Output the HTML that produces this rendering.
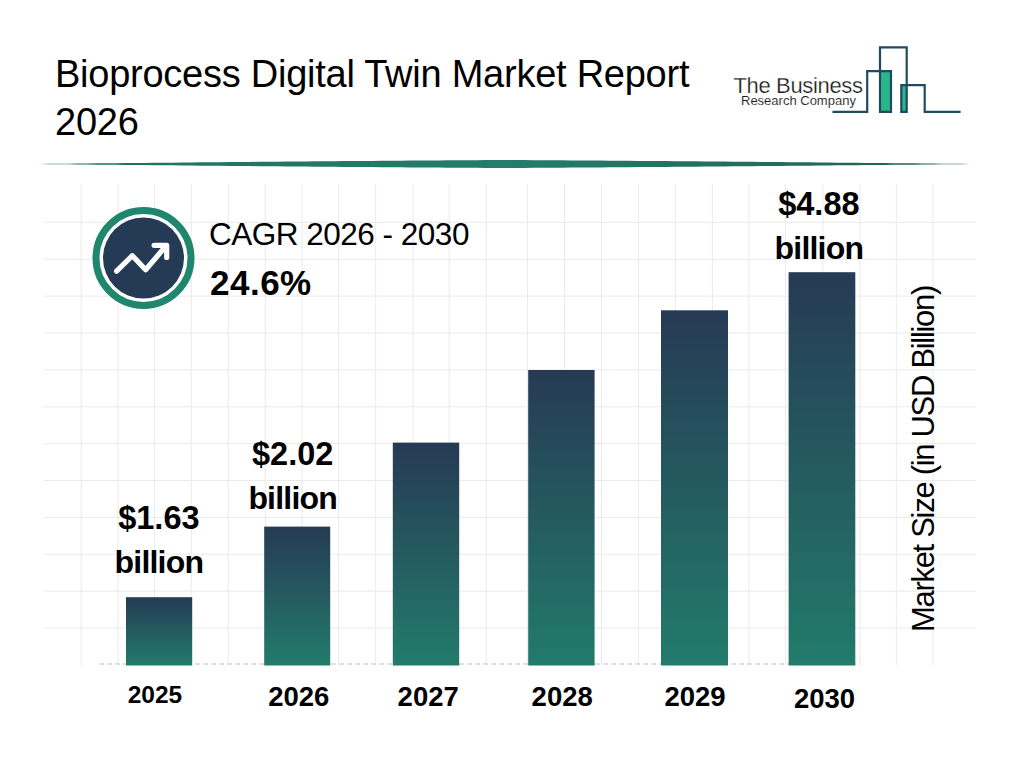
<!DOCTYPE html>
<html><head><meta charset="utf-8">
<style>
html,body{margin:0;padding:0;background:#fff;}
body{width:1024px;height:768px;position:relative;overflow:hidden;font-family:"Liberation Sans",sans-serif;color:#000;}
.t{position:absolute;white-space:nowrap;line-height:1;}
.c{width:200px;text-align:center;}
svg{position:absolute;left:0;top:0;}
</style></head><body>
<svg width="1024" height="768" viewBox="0 0 1024 768">
<defs>
<linearGradient id="div" x1="0" y1="0" x2="1" y2="0">
<stop offset="0" stop-color="#226f62"/>
<stop offset="0.5" stop-color="#237d6a"/>
<stop offset="1" stop-color="#1f5f55"/>
</linearGradient>
<linearGradient id="g0" x1="0" y1="0" x2="0" y2="1"><stop offset="0" stop-color="#263a54"/><stop offset="1" stop-color="#227b6b"/></linearGradient>
<linearGradient id="g1" x1="0" y1="0" x2="0" y2="1"><stop offset="0" stop-color="#263a54"/><stop offset="1" stop-color="#227b6b"/></linearGradient>
<linearGradient id="g2" x1="0" y1="0" x2="0" y2="1"><stop offset="0" stop-color="#263a54"/><stop offset="1" stop-color="#227b6b"/></linearGradient>
<linearGradient id="g3" x1="0" y1="0" x2="0" y2="1"><stop offset="0" stop-color="#263a54"/><stop offset="1" stop-color="#227b6b"/></linearGradient>
<linearGradient id="g4" x1="0" y1="0" x2="0" y2="1"><stop offset="0" stop-color="#263a54"/><stop offset="1" stop-color="#227b6b"/></linearGradient>
<linearGradient id="g5" x1="0" y1="0" x2="0" y2="1"><stop offset="0" stop-color="#263a54"/><stop offset="1" stop-color="#227b6b"/></linearGradient>
</defs>
<polygon points="30.0,164.00 39.5,163.91 49.0,163.81 58.5,163.72 68.0,163.63 77.5,163.53 87.0,163.44 96.5,163.35 106.0,163.26 115.5,163.16 125.0,163.07 134.5,162.98 144.0,162.89 153.5,162.80 163.0,162.71 172.5,162.63 182.0,162.54 191.5,162.45 201.0,162.36 210.5,162.28 220.0,162.19 229.5,162.10 239.0,162.02 248.5,161.93 258.0,161.85 267.5,161.77 277.0,161.68 286.5,161.60 296.0,161.52 305.5,161.44 315.0,161.36 324.5,161.28 334.0,161.20 343.5,161.12 353.0,161.04 362.5,160.97 372.0,160.89 381.5,160.82 391.0,160.74 400.5,160.67 410.0,160.60 419.5,160.53 429.0,160.46 438.5,160.39 448.0,160.33 457.5,160.26 467.0,160.20 476.5,160.14 486.0,160.09 495.5,160.04 505.0,160.00 514.5,160.04 524.0,160.09 533.5,160.14 543.0,160.20 552.5,160.26 562.0,160.33 571.5,160.39 581.0,160.46 590.5,160.53 600.0,160.60 609.5,160.67 619.0,160.74 628.5,160.82 638.0,160.89 647.5,160.97 657.0,161.04 666.5,161.12 676.0,161.20 685.5,161.28 695.0,161.36 704.5,161.44 714.0,161.52 723.5,161.60 733.0,161.68 742.5,161.77 752.0,161.85 761.5,161.93 771.0,162.02 780.5,162.10 790.0,162.19 799.5,162.28 809.0,162.36 818.5,162.45 828.0,162.54 837.5,162.63 847.0,162.71 856.5,162.80 866.0,162.89 875.5,162.98 885.0,163.07 894.5,163.16 904.0,163.26 913.5,163.35 923.0,163.44 932.5,163.53 942.0,163.63 951.5,163.72 961.0,163.81 970.5,163.91 980.0,164.00 980.0,164.00 970.5,164.09 961.0,164.19 951.5,164.28 942.0,164.37 932.5,164.47 923.0,164.56 913.5,164.65 904.0,164.74 894.5,164.84 885.0,164.93 875.5,165.02 866.0,165.11 856.5,165.20 847.0,165.29 837.5,165.37 828.0,165.46 818.5,165.55 809.0,165.64 799.5,165.72 790.0,165.81 780.5,165.90 771.0,165.98 761.5,166.07 752.0,166.15 742.5,166.23 733.0,166.32 723.5,166.40 714.0,166.48 704.5,166.56 695.0,166.64 685.5,166.72 676.0,166.80 666.5,166.88 657.0,166.96 647.5,167.03 638.0,167.11 628.5,167.18 619.0,167.26 609.5,167.33 600.0,167.40 590.5,167.47 581.0,167.54 571.5,167.61 562.0,167.67 552.5,167.74 543.0,167.80 533.5,167.86 524.0,167.91 514.5,167.96 505.0,168.00 495.5,167.96 486.0,167.91 476.5,167.86 467.0,167.80 457.5,167.74 448.0,167.67 438.5,167.61 429.0,167.54 419.5,167.47 410.0,167.40 400.5,167.33 391.0,167.26 381.5,167.18 372.0,167.11 362.5,167.03 353.0,166.96 343.5,166.88 334.0,166.80 324.5,166.72 315.0,166.64 305.5,166.56 296.0,166.48 286.5,166.40 277.0,166.32 267.5,166.23 258.0,166.15 248.5,166.07 239.0,165.98 229.5,165.90 220.0,165.81 210.5,165.72 201.0,165.64 191.5,165.55 182.0,165.46 172.5,165.37 163.0,165.29 153.5,165.20 144.0,165.11 134.5,165.02 125.0,164.93 115.5,164.84 106.0,164.74 96.5,164.65 87.0,164.56 77.5,164.47 68.0,164.37 58.5,164.28 49.0,164.19 39.5,164.09 30.0,164.00" fill="url(#div)"/>
<g stroke="#eaeaea" stroke-width="1" fill="none">
<line x1="81.2" y1="184" x2="81.2" y2="665"/>
<line x1="117.9" y1="184" x2="117.9" y2="665"/>
<line x1="154.4" y1="184" x2="154.4" y2="665"/>
<line x1="191.3" y1="184" x2="191.3" y2="665"/>
<line x1="228.2" y1="184" x2="228.2" y2="665"/>
<line x1="265.3" y1="184" x2="265.3" y2="665"/>
<line x1="302.0" y1="184" x2="302.0" y2="665"/>
<line x1="338.6" y1="184" x2="338.6" y2="665"/>
<line x1="375.7" y1="184" x2="375.7" y2="665"/>
<line x1="413.2" y1="184" x2="413.2" y2="665"/>
<line x1="449.2" y1="184" x2="449.2" y2="665"/>
<line x1="486.2" y1="184" x2="486.2" y2="665"/>
<line x1="527.5" y1="184" x2="527.5" y2="665"/>
<line x1="564.6" y1="184" x2="564.6" y2="665"/>
<line x1="601.5" y1="184" x2="601.5" y2="665"/>
<line x1="638.6" y1="184" x2="638.6" y2="665"/>
<line x1="675.3" y1="184" x2="675.3" y2="665"/>
<line x1="712.4" y1="184" x2="712.4" y2="665"/>
<line x1="748.9" y1="184" x2="748.9" y2="665"/>
<line x1="785.6" y1="184" x2="785.6" y2="665"/>
<line x1="822.9" y1="184" x2="822.9" y2="665"/>
<line x1="860.0" y1="184" x2="860.0" y2="665"/>
<line x1="896.3" y1="184" x2="896.3" y2="665"/>
<line x1="933.0" y1="184" x2="933.0" y2="665"/>
<line x1="44" y1="222.4" x2="976" y2="222.4"/>
<line x1="44" y1="259.3" x2="976" y2="259.3"/>
<line x1="44" y1="296.1" x2="976" y2="296.1"/>
<line x1="44" y1="333.0" x2="976" y2="333.0"/>
<line x1="44" y1="369.9" x2="976" y2="369.9"/>
<line x1="44" y1="406.8" x2="976" y2="406.8"/>
<line x1="44" y1="443.6" x2="976" y2="443.6"/>
<line x1="44" y1="480.5" x2="976" y2="480.5"/>
<line x1="44" y1="517.4" x2="976" y2="517.4"/>
<line x1="44" y1="554.2" x2="976" y2="554.2"/>
<line x1="44" y1="591.1" x2="976" y2="591.1"/>
<line x1="44" y1="628.0" x2="976" y2="628.0"/>
</g>
<line x1="99" y1="664" x2="860" y2="664" stroke="#d6d6d6" stroke-width="1.5" stroke-dasharray="5 3"/>
<rect x="126.0" y="597.2" width="66.2" height="68.3" fill="url(#g0)"/>
<rect x="264.2" y="526.6" width="66.0" height="138.9" fill="url(#g1)"/>
<rect x="392.8" y="442.6" width="66.4" height="222.9" fill="url(#g2)"/>
<rect x="528.2" y="370.0" width="66.4" height="295.5" fill="url(#g3)"/>
<rect x="661.0" y="310.3" width="67.0" height="355.2" fill="url(#g4)"/>
<rect x="788.6" y="272.2" width="66.7" height="393.3" fill="url(#g5)"/>
<circle cx="143.5" cy="258" r="47.5" fill="#fff" stroke="#20866d" stroke-width="7"/>
<circle cx="143.5" cy="258" r="40.5" fill="#243a55"/>
<polyline points="116.6,271.2 132.3,255.7 145.7,269.7 165.5,246.5" fill="none" stroke="#fff" stroke-width="5.2" stroke-linecap="round" stroke-linejoin="round"/>
<polyline points="154.1,245.3 166.7,245.3 166.7,257.4" fill="none" stroke="#fff" stroke-width="5.2" stroke-linecap="round" stroke-linejoin="round"/>
<g fill="#2bb58a" stroke="none">
<rect x="880" y="71" width="11" height="41"/>
<rect x="901.3" y="85" width="5.6" height="27"/>
</g>
<path d="M832.5,111.8 H867.2 V71.2 H891 V111.8 H880 V47.3 H906.7 V111.8 H901.3 V85.1 H924.7 V111.8 H960.6" fill="none" stroke="#1f4a60" stroke-width="2.2"/>
</svg>
<div class="t" style="left:55px;top:50px;font-size:38px;letter-spacing:-0.25px;line-height:48px">Bioprocess Digital Twin Market Report<br>2026</div>
<div class="t" style="left:733.5px;top:74.5px;font-size:22px;letter-spacing:-0.35px;color:#1a1a1a;-webkit-text-stroke:0.25px #fff">The Business</div>
<div class="t" style="left:741px;top:94px;font-size:13px;color:#1a1a1a;-webkit-text-stroke:0.1px #fff">Research Company</div>
<div class="t" style="left:209px;top:219px;font-size:31.5px;letter-spacing:-0.5px">CAGR 2026 - 2030</div>
<div class="t" style="left:210px;top:265px;font-size:35px;font-weight:bold;letter-spacing:0.5px">24.6%</div>
<div class="t c" style="left:58.9px;top:501.5px;font-size:32.5px;font-weight:bold">$1.63</div>
<div class="t c" style="left:58.9px;top:545.5px;font-size:32px;font-weight:bold;letter-spacing:-0.8px">billion</div>
<div class="t c" style="left:192.7px;top:437.6px;font-size:32.5px;font-weight:bold">$2.02</div>
<div class="t c" style="left:192.7px;top:481.6px;font-size:32px;font-weight:bold;letter-spacing:-0.8px">billion</div>
<div class="t c" style="left:718.9px;top:187.6px;font-size:32.5px;font-weight:bold">$4.88</div>
<div class="t c" style="left:718.9px;top:231.6px;font-size:32px;font-weight:bold;letter-spacing:-0.8px">billion</div>
<div class="t c" style="left:54.9px;top:683.3px;font-size:24.5px;font-weight:bold">2025</div>
<div class="t c" style="left:198.8px;top:683.0px;font-size:27.5px;font-weight:bold">2026</div>
<div class="t c" style="left:328.2px;top:683.0px;font-size:27.5px;font-weight:bold">2027</div>
<div class="t c" style="left:462.2px;top:683.0px;font-size:27.5px;font-weight:bold">2028</div>
<div class="t c" style="left:595.0px;top:683.0px;font-size:27.5px;font-weight:bold">2029</div>
<div class="t c" style="left:724.5px;top:684.7px;font-size:27.5px;font-weight:bold">2030</div>
<div class="t" style="left:922.5px;top:459px;width:0;height:0"><div style="position:absolute;left:0;top:0;transform:translate(-50%,-50%) rotate(-90deg);font-size:31px;letter-spacing:-1.3px;white-space:nowrap;line-height:1">Market Size (in USD Billion)</div></div>
</body></html>
